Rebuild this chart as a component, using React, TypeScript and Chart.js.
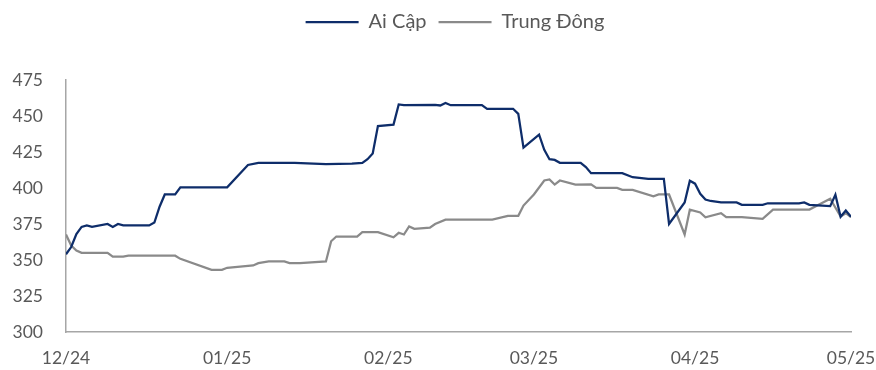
import React, { useEffect, useRef } from "react";
import { Chart, registerables } from "chart.js";

Chart.register(...registerables);

// Day offsets from 01/12/2024 (calendar days) and values
const egyptDays = [0, 1, 2, 3, 4, 5, 8, 9, 10, 11, 16, 17, 18, 19, 21, 22, 31, 35, 37, 44, 50, 55, 57, 58, 59, 60, 63, 64, 65, 71, 72, 73, 74, 80, 81, 86, 87, 88, 91, 92, 93, 94, 95, 99, 100, 101, 107, 109, 112, 115, 116, 119, 120, 121, 122, 123, 124, 126, 129, 130, 134, 135, 141, 142, 143, 147, 148, 149, 150, 151];
const egyptValues = [354, 359, 368, 373, 374, 373, 375, 373, 375, 374, 374, 376, 387, 395.5, 395.5, 400.5, 400.5, 416, 417.5, 417.5, 416.5, 417, 417.5, 420, 424, 443, 444, 458, 457.5, 457.8, 457.3, 459, 457.5, 457.5, 455, 455, 451.5, 428, 437, 426.5, 420, 419.5, 417.5, 417.5, 414.5, 410.3, 410.3, 407.5, 406.4, 406.4, 375, 390, 405, 403, 396, 392, 391, 390, 390, 388.3, 388.3, 389.4, 389.4, 390, 388.3, 387.4, 395.3, 380, 384.4, 380];

const meDays = [0, 1, 2, 3, 8, 9, 11, 12, 21, 22, 28, 30, 31, 34, 36, 37, 39, 42, 43, 45, 50, 51, 52, 56, 57, 60, 63, 64, 65, 66, 67, 70, 71, 73, 82, 85, 87, 88, 90, 92, 93, 94, 95, 98, 101, 102, 106, 107, 109, 113, 114, 116, 119, 120, 122, 123, 126, 127, 130, 134, 136, 143, 147, 149, 150, 151];
const meValues = [367.7, 360, 356.6, 355, 355, 352.4, 352.4, 353, 353, 350.8, 343.2, 343.2, 344.6, 345.5, 346.2, 347.8, 349, 349, 347.8, 347.8, 349, 363, 366.3, 366.3, 369.3, 369.3, 365.8, 368.9, 367.7, 373.3, 371.7, 372.4, 375, 378, 378, 380.7, 380.7, 387.8, 395.5, 405.2, 405.9, 402.4, 405.2, 402.4, 402.5, 400.1, 400.1, 398.7, 398.7, 394.3, 395.5, 395.5, 367.7, 384.9, 383, 379.7, 382.5, 379.7, 379.7, 378.6, 385, 385, 392.5, 380.2, 382.5, 379.7];

const tickDays = [0, 31, 62, 90, 121, 151];
const tickLabels = ["12/24", "01/25", "02/25", "03/25", "04/25", "05/25"];

const seriesNames = ["Ai Cập", "Trung Đông"];
const yTicks = [300, 325, 350, 375, 400, 425, 450, 475];

const FONT = "Lato, 'Open Sans', sans-serif";

export default function App() {
  const ref = useRef<HTMLCanvasElement | null>(null);

  useEffect(() => {
    if (!ref.current) return;
    const legendFit = {
      id: "legendFit",
      beforeInit(chart: any) {
        const lg = chart.legend;
        if (lg) {
          const orig = lg.fit;
          lg.fit = function () {
            orig.call(this);
            this.height = 80;
          };
        }
      },
      afterLayout(chart: any) {
        const lg = chart.legend;
        if (lg) {
          lg.left += 17;
          lg.right += 17;
        }
      },
    };
    const chart = new Chart(ref.current, {
      type: "line",
      data: {
        datasets: [
          {
            label: seriesNames[0],
            data: egyptDays.map((d, i) => ({ x: d, y: egyptValues[i] })),
            borderColor: "#0E2D6A",
            backgroundColor: "#0E2D6A",
            borderWidth: 2.25,
            pointRadius: 0,
            tension: 0,
          },
          {
            label: seriesNames[1],
            data: meDays.map((d, i) => ({ x: d, y: meValues[i] })),
            borderColor: "#8A8A8A",
            backgroundColor: "#8A8A8A",
            borderWidth: 2.25,
            pointRadius: 0,
            tension: 0,
          },
        ],
      },
      options: {
        animation: false,
        responsive: false,
        maintainAspectRatio: false,
        layout: { padding: 0 },
        plugins: {
          tooltip: { enabled: false },
          legend: {
            display: true,
            position: "top",
            labels: {
              usePointStyle: true,
              pointStyle: "line",
              pointStyleWidth: 53,
              boxHeight: 20,
              padding: 12,
              color: "#595959",
              font: { family: FONT, size: 20 },
            },
          },
        },
        scales: {
          x: {
            type: "linear",
            min: 0,
            max: 151,
            afterBuildTicks: (scale: any) => {
              scale.ticks = tickDays.map((v) => ({ value: v }));
            },
            afterFit: (scale: any) => {
              scale.height = 38;
              scale.paddingRight = 25;
            },
            grid: { display: false, drawTicks: false },
            border: { display: true, color: "#A6A6A6", width: 1.5 },
            ticks: {
              autoSkip: false,
              maxRotation: 0,
              padding: 16,
              color: "#595959",
              font: { family: FONT, size: 17.5 },
              callback: (v: any) => {
                const i = tickDays.indexOf(Number(v));
                return i >= 0 ? tickLabels[i] : "";
              },
            },
          },
          y: {
            min: 300,
            max: 475,
            afterBuildTicks: (scale: any) => {
              scale.ticks = yTicks.map((v) => ({ value: v }));
            },
            afterFit: (scale: any) => {
              scale.width = 66;
            },
            grid: { display: false, drawTicks: false },
            border: { display: true, color: "#A6A6A6", width: 1.5 },
            ticks: {
              padding: 23,
              color: "#595959",
              font: { family: FONT, size: 17.5 },
            },
          },
        },
      },
      plugins: [legendFit],
    } as any);
    return () => chart.destroy();
  }, []);

  return (
    <div style={{ position: "fixed", left: 0, top: 0, width: 876, height: 370, background: "#fff" }}>
      <canvas ref={ref} width={876} height={370} style={{ width: 876, height: 370, display: "block" }} />
    </div>
  );
}
